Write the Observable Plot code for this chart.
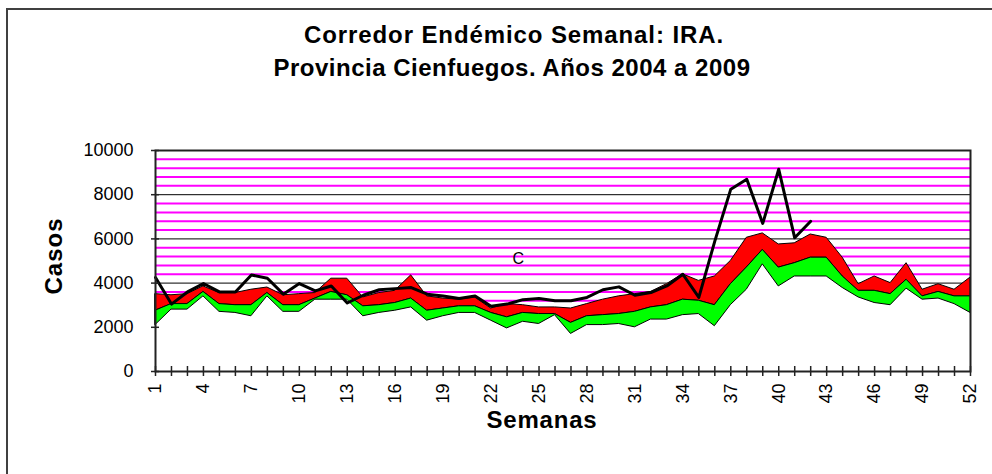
<!DOCTYPE html>
<html><head><meta charset="utf-8">
<script src="https://cdn.jsdelivr.net/npm/d3@7"></script>
<script src="https://cdn.jsdelivr.net/npm/@observablehq/plot@0.6"></script>
<style>
html,body{margin:0;padding:0;background:#fff;overflow:hidden;}
#wrap{position:relative;width:992px;height:474px;overflow:hidden;font-family:"Liberation Sans",Arial,sans-serif;color:#000;}
#border{position:absolute;left:6px;top:8px;width:1100px;height:600px;border:2px solid #404040;box-sizing:border-box;}
.t{position:absolute;font-weight:bold;font-size:24px;line-height:24px;white-space:nowrap;transform:translateX(-50%);letter-spacing:0.5px;}
#chart{position:absolute;left:0;top:0;}
</style></head>
<body>
<div id="wrap">
  <div id="border"></div>
  <div id="chart"></div>
  <div class="t" style="left:514px;top:23px;letter-spacing:0.9px;">Corredor Endémico Semanal: IRA.</div>
  <div class="t" style="left:512px;top:56px;">Provincia Cienfuegos. Años 2004 a 2009</div>
  <div class="t" style="left:542px;top:408px;letter-spacing:0.8px;">Semanas</div>
  <div class="t" style="left:54px;top:256px;transform:translate(-50%,-50%) rotate(-90deg);letter-spacing:1px;">Casos</div>
</div>
<script>
const weeks = [1,2,3,4,5,6,7,8,9,10,11,12,13,14,15,16,17,18,19,20,21,22,23,24,25,26,27,28,29,30,31,32,33,34,35,36,37,38,39,40,41,42,43,44,45,46,47,48,49,50,51,52];
const lower = [2100,2800,2800,3400,2700,2650,2500,3400,2700,2700,3250,3250,3250,2500,2650,2750,2900,2300,2500,2650,2650,2300,1950,2250,2150,2550,1700,2100,2100,2150,2000,2350,2350,2550,2600,2050,3000,3700,4850,3850,4300,4300,4300,3780,3350,3100,3000,3750,3250,3300,3050,2650];
const median = [2750,3050,3050,3600,3050,3000,3000,3550,3000,3000,3300,3600,3450,2950,3000,3100,3300,2750,2850,2950,2950,2650,2450,2650,2600,2600,2200,2500,2550,2600,2700,2900,3000,3250,3200,3000,3950,4700,5500,4700,4900,5150,5150,4300,3650,3650,3500,4150,3400,3600,3400,3400];
const upper = [3500,3450,3500,3850,3550,3550,3700,3800,3450,3500,3550,4200,4200,3350,3550,3650,4350,3400,3300,3250,3350,2850,3050,3000,2900,2900,2850,3050,3250,3400,3500,3600,3950,4400,4100,4300,5000,6050,6250,5750,5800,6200,6050,5150,3950,4300,4000,4900,3700,3950,3700,4250];
const currentWeeks = [1,2,3,4,5,6,7,8,9,10,11,12,13,14,15,16,17,18,19,20,21,22,23,24,25,26,27,28,29,30,31,32,33,34,35,36,37,38,39,40,41,42];
const current = [4250,3050,3600,3980,3600,3600,4370,4220,3500,3980,3650,3870,3100,3450,3700,3750,3800,3500,3420,3300,3420,2950,3050,3250,3300,3200,3200,3350,3700,3830,3450,3570,3870,4400,3350,5900,8250,8700,6700,9150,6050,6800];
const xTickLabels = [1,4,7,10,13,16,19,22,25,28,31,34,37,40,43,46,49,52];
const yTickLabels = [0,2000,4000,6000,8000,10000];
const gridLines = [2000,4000,6000,8000];
const hatchLines = [400,800,1200,1600,2400,2800,3200,3600,4400,4800,5200,5600,6400,6800,7200,7600,8400,8800,9200,9600];
const annotations = [{week: 23.7, value: 5100, text: "C"}];

const band = weeks.map((w, i) => ({week: w, lower: lower[i], median: median[i], upper: upper[i]}));
const cur = currentWeeks.map((w, i) => ({week: w, value: current[i]}));

const W = 992, H = 474, mL = 155, mR = 22, mT = 150, mB = 103;
const pw = W - mL - mR, ph = H - mT - mB;

const plot = Plot.plot({
  width: W, height: H,
  marginLeft: mL, marginRight: mR, marginTop: mT, marginBottom: mB,
  x: {domain: [1, 52], axis: null},
  y: {domain: [0, 10000], axis: null},
  style: {fontFamily: "'Liberation Sans', Arial, sans-serif", background: "transparent", color: "#000"},
  marks: [
    Plot.ruleY(hatchLines, {y: d => d, stroke: "#ff00ff", strokeWidth: 2}),
    Plot.ruleY(gridLines, {y: d => d, stroke: "#000", strokeWidth: 1}),
    Plot.areaY(band, {x: "week", y1: 0, y2: "upper", fill: "#fff"}),
    Plot.areaY(band, {x: "week", y1: "median", y2: "upper", fill: "#ff0000", stroke: "#000", strokeWidth: 1}),
    Plot.areaY(band, {x: "week", y1: "lower", y2: "median", fill: "#00ff00", stroke: "#000", strokeWidth: 1}),
    Plot.line(cur, {x: "week", y: "value", stroke: "#000", strokeWidth: 3}),
    Plot.text(annotations, {x: "week", y: "value", text: "text", fontSize: 16, fill: "#000"}),
    Plot.frame({stroke: "#222", strokeWidth: 2}),
    Plot.tickX(weeks, {x: d => d, stroke: "#222", strokeWidth: 1.5, insetTop: ph - 5, insetBottom: -5}),
    Plot.tickY(yTickLabels, {y: d => d, stroke: "#222", strokeWidth: 1.5, insetLeft: -4, insetRight: pw - 4}),
    Plot.axisX({ticks: xTickLabels, tickSize: 0, tickPadding: 12, tickRotate: -90, fontSize: 18, label: null, tickFormat: d => String(d)}),
    Plot.axisY({ticks: yTickLabels, tickSize: 0, tickPadding: 22, fontSize: 18, label: null, tickFormat: d => String(d)})
  ]
});
document.getElementById("chart").appendChild(plot);
</script>
</body></html>
